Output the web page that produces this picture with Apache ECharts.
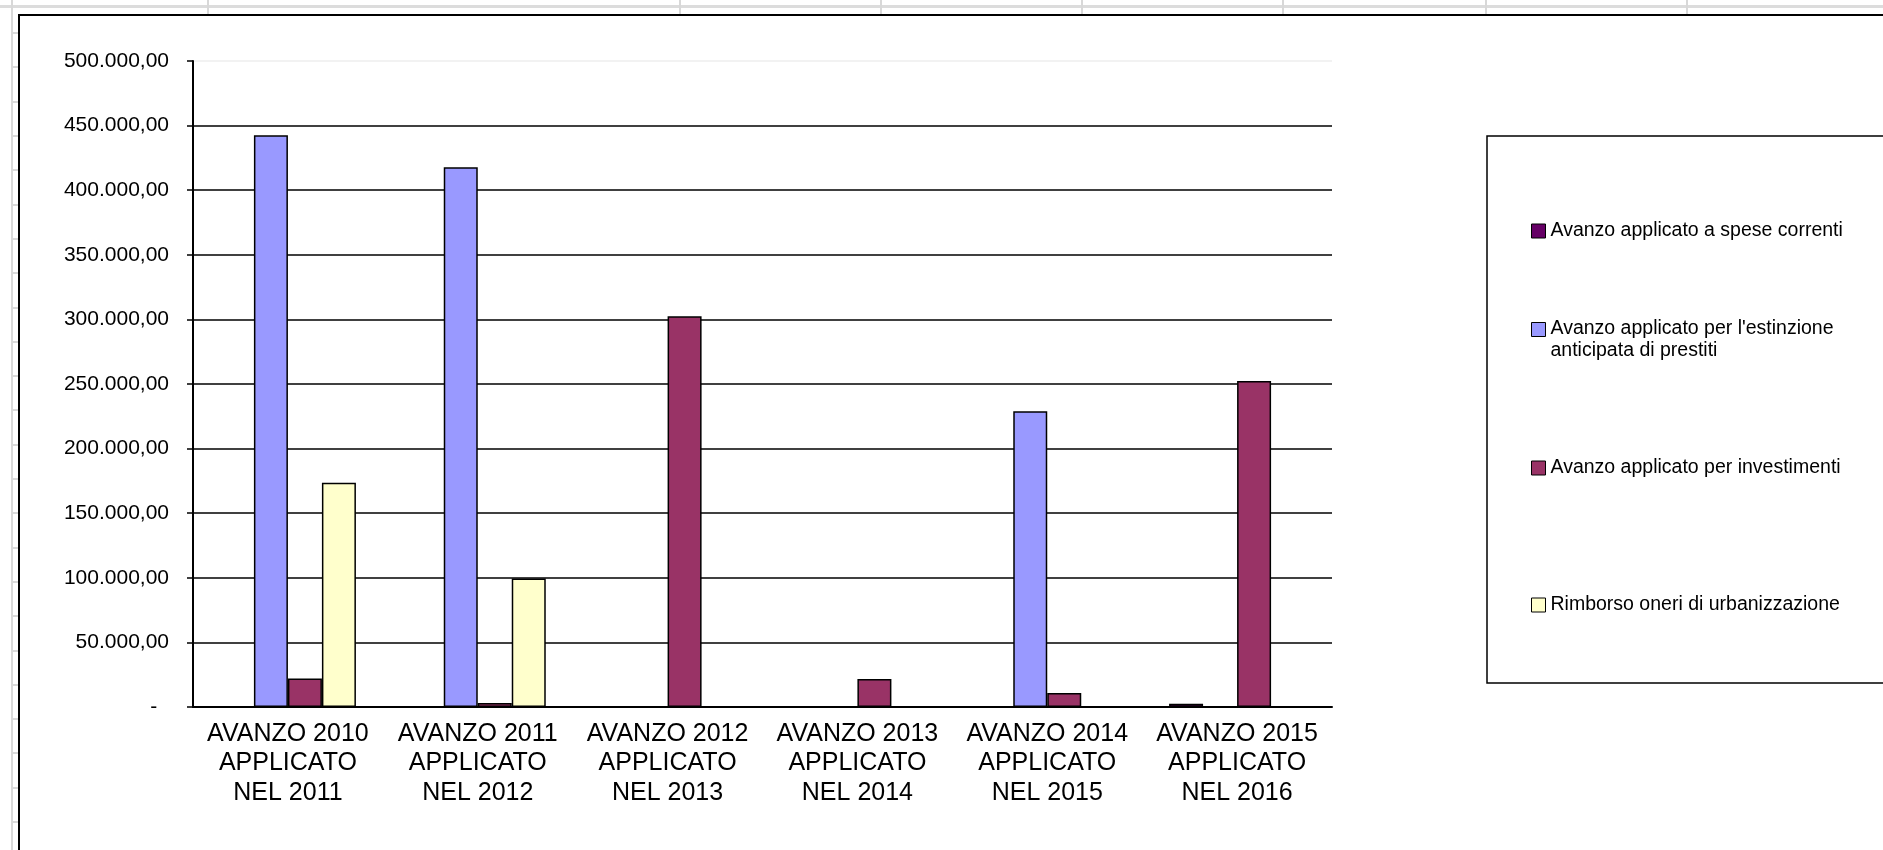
<!DOCTYPE html>
<html>
<head>
<meta charset="utf-8">
<title>Avanzo applicato</title>
<script src="https://cdn.jsdelivr.net/npm/echarts/dist/echarts.min.js"></script>
<style>
  html, body { margin: 0; padding: 0; background: #fff; }
  #chart { width: 1883px; height: 850px; }
</style>
</head>
<body>
<div id="chart"></div>
<script>
  // categorie (asse x)
  let categories = [
    'AVANZO 2010\nAPPLICATO\nNEL 2011',
    'AVANZO 2011\nAPPLICATO\nNEL 2012',
    'AVANZO 2012\nAPPLICATO\nNEL 2013',
    'AVANZO 2013\nAPPLICATO\nNEL 2014',
    'AVANZO 2014\nAPPLICATO\nNEL 2015',
    'AVANZO 2015\nAPPLICATO\nNEL 2016'
  ]

  let seriesNames = [
    'Avanzo applicato a spese correnti',
    "Avanzo applicato per l'estinzione anticipata di prestiti",
    'Avanzo applicato per investimenti',
    'Rimborso oneri di urbanizzazione'
  ]

  // valori
  let speseCorrenti = [0, 0, 0, 0, 0, 2500]
  let estinzionePrestiti = [442500, 417800, 0, 0, 229000, 0]
  let investimenti = [22000, 3000, 302500, 21700, 10800, 252300]
  let rimborsoOneri = [173500, 99500, 0, 0, 0, 0]

  let colors = ['#660066', '#9999FF', '#993366', '#FFFFCC']

  // formato 500.000,00 ; zero come trattino
  function fmtNum(v) {
    if (v === 0) return '-  '
    let parts = v.toFixed(2).split('.')
    let intPart = parts[0].replace(/\B(?=(\d{3})+(?!\d))/g, '.')
    return intPart + ',' + parts[1]
  }

  function buildSeries() {
    let datas = [speseCorrenti, estinzionePrestiti, investimenti, rimborsoOneri]
    let arr = []
    for (let i = 0; i < datas.length; i++) {
      arr.push({
        name: seriesNames[i],
        type: 'bar',
        barWidth: 34,
        barGap: '0%',
        data: datas[i],
        itemStyle: { color: colors[i], borderColor: '#000', borderWidth: 1.5 },
        emphasis: { disabled: true }
      })
    }
    return arr
  }

  // una legenda per voce, per poterle spaziare come nell'originale
  function buildLegends() {
    let tops = [220, 318, 457, 594]
    let arr = []
    for (let i = 0; i < seriesNames.length; i++) {
      let twoLines = i === 1
      arr.push({
        left: 1531,
        top: tops[i],
        padding: 0,
        // per la voce su due righe il quadratino sta sulla prima riga
        icon: twoLines ? 'path://M0,0L0,0M0,2.5L10,2.5L10,12.5L0,12.5Z M0,30L0,30' : 'rect',
        itemWidth: 14,
        itemHeight: twoLines ? 44 : 14,
        selectedMode: false,
        data: [{ name: seriesNames[i], itemStyle: { borderColor: '#000', borderWidth: 1 } }],
        formatter: function (name) {
          return name.replace("l'estinzione ", "l'estinzione\n")
        },
        textStyle: {
          fontFamily: 'Liberation Sans, Arial, sans-serif',
          fontSize: 19.5,
          lineHeight: 22,
          color: '#000'
        }
      })
    }
    return arr
  }

  // righe del foglio di calcolo sullo sfondo
  function buildSheetLines() {
    let g = []
    g.push({ type: 'rect', shape: { x: 0, y: 5, width: 1883, height: 3 }, style: { fill: '#dcdcdc' }, silent: true })
    g.push({ type: 'line', shape: { x1: 12, y1: 0, x2: 12, y2: 850 }, style: { stroke: '#d8d8d8', lineWidth: 2 }, silent: true })
    let cols = [208, 680, 881, 1082, 1283, 1486, 1687]
    cols.forEach((x) => {
      g.push({ type: 'line', shape: { x1: x, y1: 0, x2: x, y2: 15 }, style: { stroke: '#d8d8d8', lineWidth: 2 }, silent: true })
    })
    for (let y = 822; y > 16; y -= 34.3) {
      g.push({ type: 'line', shape: { x1: 12, y1: Math.round(y), x2: 19, y2: Math.round(y) }, style: { stroke: '#d8d8d8', lineWidth: 2 }, silent: true })
    }
    // cornice del grafico
    g.push({ type: 'rect', shape: { x: 19, y: 15, width: 2000, height: 1000 }, style: { fill: null, stroke: '#000', lineWidth: 2 }, silent: true })
    // cornice della legenda
    g.push({ type: 'rect', shape: { x: 1487, y: 136, width: 500, height: 547 }, style: { fill: null, stroke: '#000', lineWidth: 1.5 }, silent: true })
    return g
  }

  let splitColors = ['#000', '#000', '#000', '#000', '#000', '#000', '#000', '#000', '#000', '#000', '#eeeeee']

  let myChart = echarts.init(document.getElementById('chart'))
  myChart.setOption({
    backgroundColor: '#fff',
    animation: false,
    textStyle: { fontFamily: 'Liberation Sans, Arial, sans-serif', color: '#000' },
    graphic: buildSheetLines(),
    legend: buildLegends(),
    grid: {
      left: 193,
      right: 551,
      top: 61,
      bottom: 143
    },
    xAxis: {
      type: 'category',
      data: categories,
      axisLine: { lineStyle: { color: '#000', width: 2 } },
      axisTick: { length: 7, lineStyle: { color: '#000', width: 1.5 } },
      axisLabel: {
        interval: 0,
        margin: 12,
        fontSize: 25,
        lineHeight: 29.5,
        color: '#000',
        fontFamily: 'Liberation Sans, Arial, sans-serif'
      }
    },
    yAxis: {
      type: 'value',
      min: 0,
      max: 500000,
      interval: 50000,
      axisLine: { show: true, lineStyle: { color: '#000', width: 2 } },
      axisTick: { show: true, length: 6, lineStyle: { color: '#000', width: 1.5 } },
      axisLabel: {
        margin: 24,
        fontSize: 21,
        color: '#000',
        fontFamily: 'Liberation Sans, Arial, sans-serif',
        formatter: fmtNum
      },
      splitLine: { show: true, lineStyle: { color: splitColors, width: 1.5 } }
    },
    series: buildSeries()
  })
</script>
</body>
</html>
